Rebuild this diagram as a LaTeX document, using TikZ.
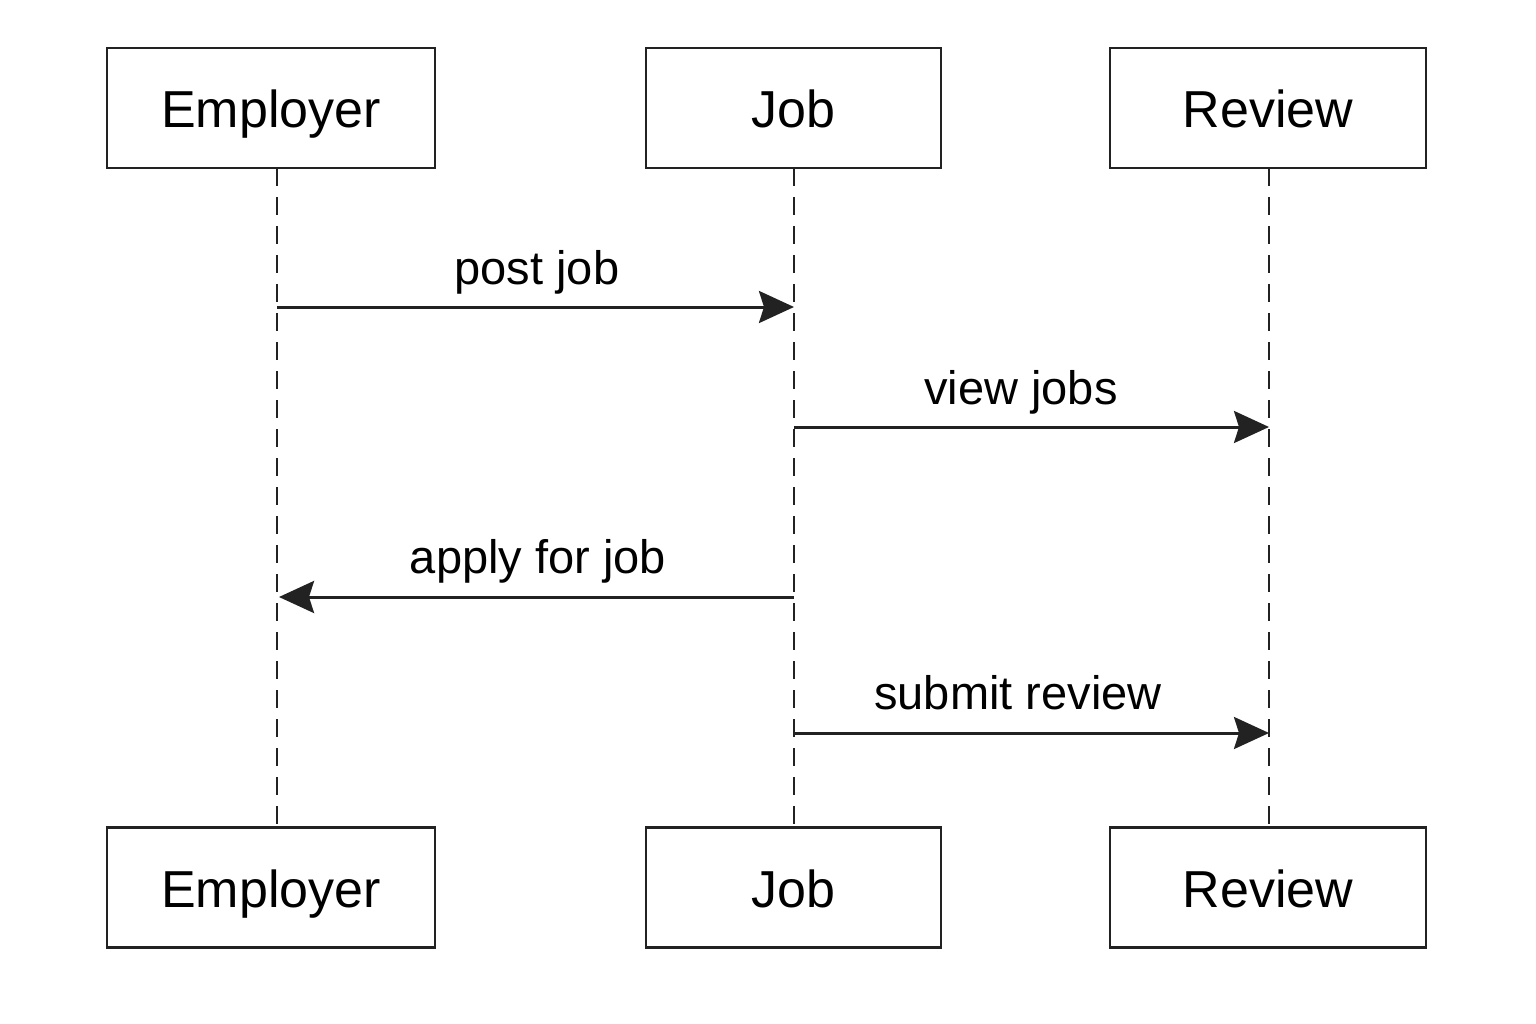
\documentclass[tikz,border=0pt]{standalone}
\usepackage{fontspec}
\setmainfont{Liberation Sans}
\usetikzlibrary{arrows.meta}
\definecolor{ink}{HTML}{222222}
\begin{document}
\begin{tikzpicture}[x=1pt,y=-1pt,
  actor/.style={draw=ink,line width=2.5pt,fill=white,minimum height=120pt,inner sep=0pt,text height=40pt,text depth=0pt,font=\fontsize{52}{60}\selectfont,text=black},
  life/.style={draw=ink,line width=2.8pt,dash pattern=on 18pt off 11pt},
  msg/.style={draw=ink,line width=3pt,-{Stealth[length=35pt,width=32pt,inset=5pt]}},
  lbl/.style={font=\fontsize{47}{56}\selectfont,text=black,text height=36pt,text depth=0pt,inner sep=0pt}]
\useasboundingbox (0,0) rectangle (1536,1024);
% lifelines
\coordinate (e1) at (277,168); \coordinate (e2) at (277,828);
\coordinate (j1) at (794,168); \coordinate (j2) at (794,828);
\coordinate (r1) at (1269,168); \coordinate (r2) at (1269,828);
\draw[life] (e1) -- (e2);
\draw[life] (j1) -- (j2);
\draw[life] (r1) -- (r2);
% actors
\node[actor,minimum width=328pt] (empT) at (271,108) {Employer};
\node[actor,minimum width=295pt] (jobT) at (793.5,108) {Job};
\node[actor,minimum width=316pt] (revT) at (1268,108) {Review};
\node[actor,minimum width=328pt] (empB) at (271,887.5) {Employer};
\node[actor,minimum width=295pt] (jobB) at (793.5,887.5) {Job};
\node[actor,minimum width=316pt] (revB) at (1268,887.5) {Review};
% messages
\coordinate (m1a) at (277,307); \coordinate (m1b) at (794,307);
\coordinate (m2a) at (794,427); \coordinate (m2b) at (1269,427);
\coordinate (m3a) at (794,597); \coordinate (m3b) at (279,597);
\coordinate (m4a) at (794,733); \coordinate (m4b) at (1269,733);
\draw[msg] (m1a) -- (m1b);
\draw[msg] (m2a) -- (m2b);
\draw[msg] (m3a) -- (m3b);
\draw[msg] (m4a) -- (m4b);
\node[lbl] (l1) at (537,266) {post job};
\node[lbl] (l2) at (1021,386) {view jobs};
\node[lbl] (l3) at (538,555) {apply for job};
\node[lbl] (l4) at (1018,691) {submit review};
\end{tikzpicture}
\end{document}
